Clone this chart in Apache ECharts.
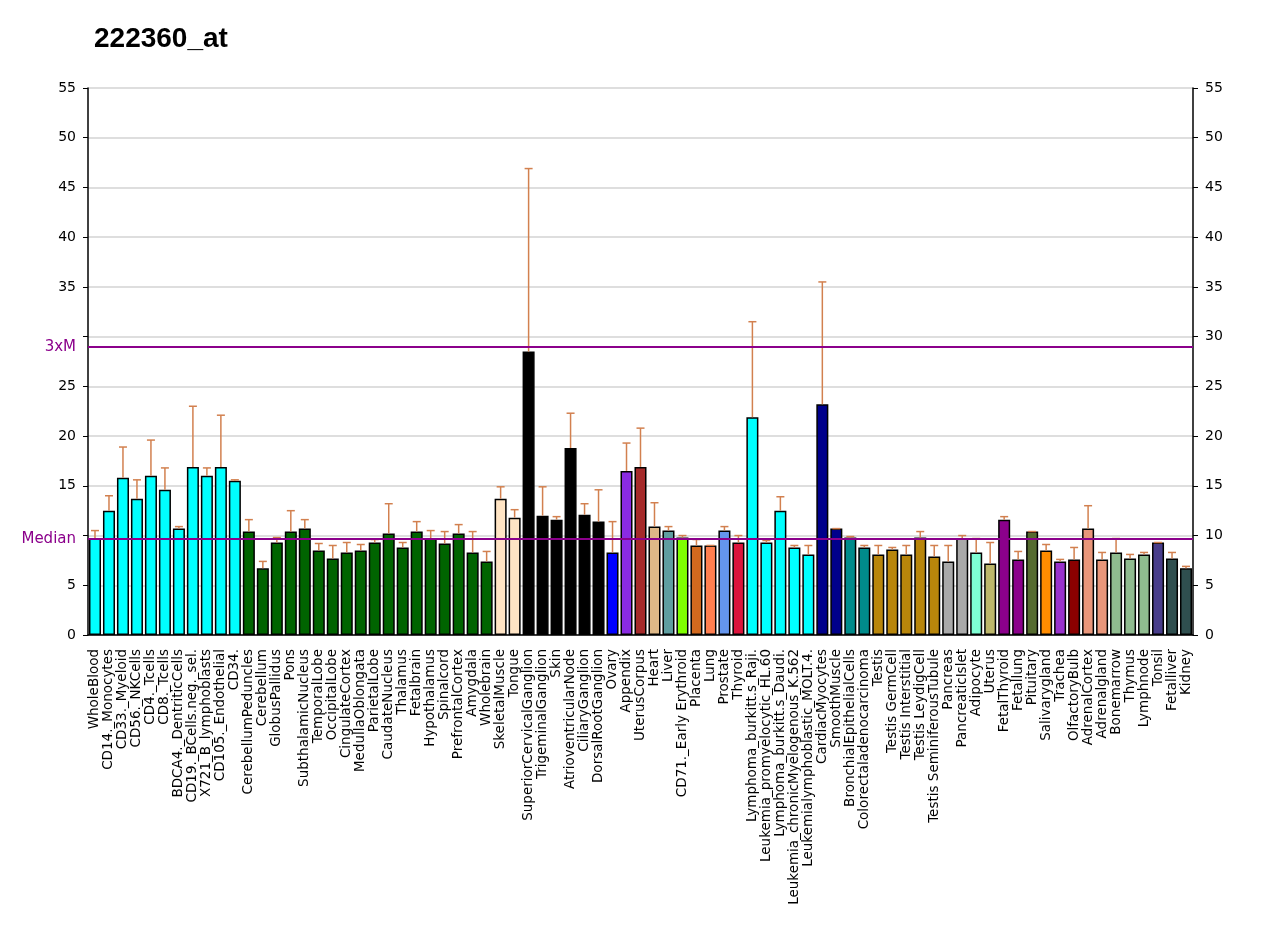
<!DOCTYPE html>
<html>
<head>
<meta charset="utf-8">
<title>222360_at</title>
<script src="https://cdn.jsdelivr.net/npm/echarts@6/dist/echarts.min.js"></script>
<style>
  html, body { margin: 0; padding: 0; background: #fff; }
  #chart { width: 1280px; height: 927px; }
</style>
</head>
<body>
<div id="chart"></div>
<script>
// tissue names, left to right
var tissues = [
  'WholeBlood', 'CD14._Monocytes', 'CD33._Myeloid', 'CD56._NKCells', 'CD4._Tcells',
  'CD8._Tcells', 'BDCA4._DentriticCells', 'CD19._BCells.neg._sel.', 'X721_B_lymphoblasts',
  'CD105._Endothelial', 'CD34.', 'CerebellumPeduncles', 'Cerebellum', 'GlobusPallidus',
  'Pons', 'SubthalamicNucleus', 'TemporalLobe', 'OccipitalLobe', 'CingulateCortex',
  'MedullaOblongata', 'ParietalLobe', 'CaudateNucleus', 'Thalamus', 'Fetalbrain',
  'Hypothalamus', 'Spinalcord', 'PrefrontalCortex', 'Amygdala', 'Wholebrain',
  'SkeletalMuscle', 'Tongue', 'SuperiorCervicalGanglion', 'TrigeminalGanglion', 'Skin',
  'AtrioventricularNode', 'CiliaryGanglion', 'DorsalRootGanglion', 'Ovary', 'Appendix',
  'UterusCorpus', 'Heart', 'Liver', 'CD71._Early Erythroid', 'Placenta', 'Lung',
  'Prostate', 'Thyroid', 'Lymphoma_burkitt.s_Raji.', 'Leukemia_promyelocytic_HL.60',
  'Lymphoma_burkitt.s_Daudi.', 'Leukemia_chronicMyelogenous_K.562',
  'Leukemialymphoblastic_MOLT.4.', 'CardiacMyocytes', 'SmoothMuscle',
  'BronchialEpithelialCells', 'Colorectaladenocarcinoma', 'Testis', 'Testis GermCell',
  'Testis Interstitial', 'Testis LeydigCell', 'Testis SeminiferousTubule', 'Pancreas',
  'PancreaticIslet', 'Adipocyte', 'Uterus', 'FetalThyroid', 'Fetallung', 'Pituitary',
  'Salivarygland', 'Trachea', 'OlfactoryBulb', 'AdrenalCortex', 'Adrenalgland',
  'Bonemarrow', 'Thymus', 'Lymphnode', 'Tonsil', 'Fetalliver', 'Kidney'
];

// mean expression
var expression = [
  9.7, 12.5, 15.8, 13.7, 16.0, 14.6, 10.7, 16.9, 16.0, 16.9, 15.5,
  10.4, 6.7, 9.3, 10.4, 10.7, 8.5, 7.7, 8.3, 8.5, 9.3, 10.2, 8.8, 10.4,
  9.7, 9.2, 10.2, 8.3, 7.4,
  13.7, 11.8,
  28.5, 12.0, 11.6, 18.8, 12.1, 11.4,
  8.3, 16.5, 16.9, 10.9, 10.5, 9.8, 9.0, 9.0, 10.5, 9.3,
  21.9, 9.3, 12.5, 8.8, 8.1,
  23.2, 10.7, 9.8, 8.8, 8.1, 8.6, 8.1, 9.8, 7.9, 7.4, 9.7, 8.3, 7.2,
  11.6, 7.6, 10.4, 8.5, 7.4, 7.6, 10.7, 7.6, 8.3, 7.7, 8.1, 9.3, 7.7, 6.7
];

// top of the error whisker
var upperError = [
  10.5, 14.0, 18.9, 15.6, 19.6, 16.8, 10.9, 23.0, 16.8, 22.1, 15.6,
  11.6, 7.4, 9.8, 12.5, 11.6, 9.2, 9.0, 9.3, 9.1, 9.6, 13.2, 9.3, 11.4,
  10.5, 10.4, 11.1, 10.4, 8.4,
  14.9, 12.6,
  46.9, 14.9, 11.9, 22.3, 13.2, 14.6,
  11.4, 19.3, 20.8, 13.3, 10.9, 10.0, 9.6, 9.0, 10.9, 10.0,
  31.5, 9.5, 13.9, 9.0, 9.0,
  35.5, 10.7, 9.9, 9.0, 9.0, 8.8, 9.0, 10.4, 9.0, 9.0, 10.0, 9.7, 9.3,
  11.9, 8.4, 10.4, 9.1, 7.6, 8.8, 13.0, 8.3, 9.7, 8.1, 8.3, 9.3, 8.3, 6.9
];

var barColors = [
  '#00FFFF', '#00FFFF', '#00FFFF', '#00FFFF', '#00FFFF', '#00FFFF', '#00FFFF', '#00FFFF',
  '#00FFFF', '#00FFFF', '#00FFFF',
  '#006400', '#006400', '#006400', '#006400', '#006400', '#006400', '#006400', '#006400',
  '#006400', '#006400', '#006400', '#006400', '#006400', '#006400', '#006400', '#006400',
  '#006400', '#006400',
  '#FFE4C4', '#FFE4C4',
  '#000000', '#000000', '#000000', '#000000', '#000000', '#000000',
  '#0000FF', '#8A2BE2', '#A52A2A', '#DEB887', '#5F9EA0', '#7FFF00', '#D2691E', '#FF7F50',
  '#6495ED', '#DC143C',
  '#00FFFF', '#00FFFF', '#00FFFF', '#00FFFF', '#00FFFF',
  '#00008B', '#00008B', '#008B8B', '#008B8B',
  '#B8860B', '#B8860B', '#B8860B', '#B8860B', '#B8860B',
  '#A9A9A9', '#A9A9A9', '#7FFFD4', '#BDB76B', '#8B008B', '#8B008B', '#556B2F', '#FF8C00',
  '#9932CC', '#8B0000', '#E9967A', '#E9967A', '#8FBC8F', '#8FBC8F', '#8FBC8F', '#483D8B',
  '#2F4F4F', '#2F4F4F'
];

var median = 9.65;
var threeTimesMedian = 28.95;

var chart = echarts.init(document.getElementById('chart'));

var option = {
  animation: false,
  title: {
    text: '222360_at',
    left: 89,
    top: 20,
    textStyle: { fontFamily: 'Liberation Sans', fontSize: 28, fontWeight: 'bold', color: '#000' }
  },
  grid: { left: 88, right: 87, top: 88, bottom: 292 },
  xAxis: {
    type: 'category',
    data: tissues,
    axisLine: { lineStyle: { color: '#000', width: 1.5 } },
    axisTick: { alignWithLabel: true, interval: 0, length: 5, lineStyle: { color: '#000' } },
    axisLabel: {
      interval: 0,
      rotate: 90,
      margin: 14,
      fontFamily: 'DejaVu Sans',
      fontSize: 13.5,
      color: '#000'
    }
  },
  yAxis: [
    {
      type: 'value',
      min: 0,
      max: 55,
      interval: 5,
      axisLine: { show: true, lineStyle: { color: '#000', width: 1.5 } },
      axisTick: { show: true, length: 5, lineStyle: { color: '#000' } },
      axisLabel: {
        fontFamily: 'DejaVu Sans',
        fontSize: 14,
        color: '#000',
        margin: 12,
        // the median and 3xM labels take these places
        formatter: function (v) { return (v === 10 || v === 30) ? '' : v; }
      },
      splitLine: { show: true, lineStyle: { color: '#d3d3d3', width: 1.5 } }
    },
    {
      type: 'value',
      min: 0,
      max: 55,
      interval: 5,
      position: 'right',
      axisLine: { show: true, lineStyle: { color: '#000', width: 1.5 } },
      axisTick: { show: true, length: 5, lineStyle: { color: '#000' } },
      axisLabel: { fontFamily: 'DejaVu Sans', fontSize: 14, color: '#000', margin: 12 },
      splitLine: { show: false }
    }
  ],
  series: [
    {
      type: 'bar',
      barCategoryGap: '14%',
      data: expression.map(function (v, i) {
        return { value: v, itemStyle: { color: barColors[i] } };
      }),
      itemStyle: { borderColor: '#000', borderWidth: 1.5 },
      markLine: {
        silent: true,
        symbol: 'none',
        lineStyle: { color: '#8B008B', width: 2, type: 'solid' },
        label: {
          position: 'start',
          distance: 12,
          color: '#8B008B',
          fontFamily: 'DejaVu Sans',
          fontSize: 15
        },
        data: [
          { yAxis: median, label: { formatter: 'Median' } },
          { yAxis: threeTimesMedian, label: { formatter: '3xM' } }
        ]
      },
      z: 2
    },
    {
      type: 'custom',
      z: 3,
      data: expression.map(function (v, i) { return [i, v, upperError[i]]; }),
      renderItem: function (params, api) {
        var base = api.coord([api.value(0), api.value(1)]);
        var top = api.coord([api.value(0), api.value(2)]);
        var style = { stroke: '#D2804F', lineWidth: 1.5 };
        return {
          type: 'group',
          children: [
            { type: 'line', shape: { x1: base[0], y1: base[1], x2: top[0], y2: top[1] }, style: style },
            { type: 'line', shape: { x1: top[0] - 4, y1: top[1], x2: top[0] + 4, y2: top[1] }, style: style }
          ]
        };
      }
    }
  ]
};

chart.setOption(option);
</script>
</body>
</html>
